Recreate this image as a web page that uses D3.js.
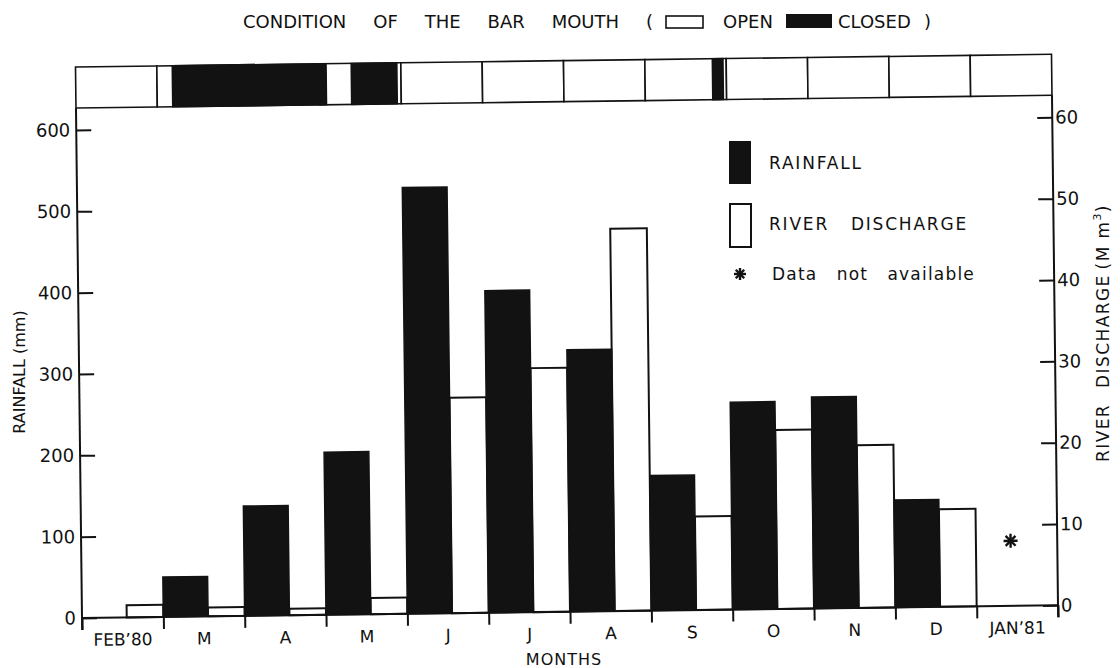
<!DOCTYPE html>
<html>
<head>
<meta charset="utf-8">
<script src="https://cdn.jsdelivr.net/npm/d3@7"></script>
<style>
  body { margin: 0; background: #fff; }
  text { font-family: "DejaVu Sans", sans-serif; fill: #111; }
</style>
</head>
<body>
<div id="chart"></div>
<script>
// Monthly data, Feb 1980 - Jan 1981
const months = ["FEB\u201980", "M", "A", "M", "J", "J", "A", "S", "O", "N", "D", "JAN\u201981"];
const rainfall = [0, 49, 135, 200, 524, 396, 322, 166, 255, 260, 132, 0];      // mm
const discharge = [1.5, 1.1, 0.8, 2.0, 26.5, 30, 47, 11.5, 22, 20, 12, null];  // Mm3

// Bar mouth closed periods, in months counted from 1 Feb 1980
const closedPeriods = [[1.19, 3.08], [3.39, 3.95], [7.83, 7.96]];

// Missing discharge marker (month index, level on discharge scale)
const notAvailable = [{ month: 11, level: 8 }];

const rainTicks = [0, 100, 200, 300, 400, 500, 600];
const flowTicks = [0, 10, 20, 30, 40, 50, 60];

// Layout
const width = 1120, height = 668;
const left = 82, right = 1058, base = 618, frameTop = 108, stripTop = 67;
const ink = "#121212";

const x = d3.scaleLinear().domain([0, months.length]).range([left, right]);
const yRain = d3.scaleLinear().domain([0, 600]).range([base, 130]);
const yFlow = d3.scaleLinear().domain([0, 60]).range([base, 130]);
const bw = x(1) - x(0);
const split = 0.55;

const svg = d3.select("#chart").append("svg")
    .attr("width", width)
    .attr("height", height);

svg.append("rect").attr("width", width).attr("height", height).attr("fill", "#fff");

// stretch the gaps between words so a line fills a given length
function fitWords(sel, target) {
  const gaps = (sel.text().match(/ +/g) || []).length;
  const len = sel.node().getComputedTextLength();
  if (gaps) sel.attr("word-spacing", (target - len) / gaps);
  return sel;
}

// 8-armed asterisk like the one in the figure
function star(parent, cx, cy, r) {
  const s = parent.append("g").attr("transform", `translate(${cx},${cy})`)
      .attr("stroke", ink).attr("stroke-width", 2.4);
  [0, 45, 90, 135].forEach(a => {
    const dx = r * Math.cos(a * Math.PI / 180), dy = r * Math.sin(a * Math.PI / 180);
    s.append("line").attr("x1", -dx).attr("y1", -dy).attr("x2", dx).attr("y2", dy);
  });
}

// the scanned figure is slightly skewed, so the plot gets a small shear
const g = svg.append("g")
    .attr("transform", `matrix(1,-0.013,0.0118,1,${-0.0118 * base},${0.013 * left})`);

// bar mouth strip
const strip = g.append("g");
strip.selectAll("rect.month")
  .data(months)
  .join("rect")
    .attr("class", "month")
    .attr("x", (d, i) => x(i))
    .attr("y", stripTop)
    .attr("width", bw)
    .attr("height", frameTop - stripTop)
    .attr("fill", "#fff")
    .attr("stroke", ink)
    .attr("stroke-width", 1.6);

strip.selectAll("rect.closed")
  .data(closedPeriods)
  .join("rect")
    .attr("class", "closed")
    .attr("x", d => x(d[0]))
    .attr("y", stripTop)
    .attr("width", d => x(d[1]) - x(d[0]))
    .attr("height", frameTop - stripTop)
    .attr("fill", ink)
    .attr("stroke", ink)
    .attr("stroke-width", 1.6);

// discharge bars (open)
const flowData = discharge.map((v, i) => ({ i, v })).filter(d => d.v != null);
g.append("g").selectAll("rect")
  .data(flowData)
  .join("rect")
    .attr("x", d => x(d.i) + bw * split)
    .attr("y", d => yFlow(d.v))
    .attr("width", bw * (1 - split))
    .attr("height", d => base - yFlow(d.v))
    .attr("fill", "#fff")
    .attr("stroke", ink)
    .attr("stroke-width", 2);

// rainfall bars (solid)
const rainData = rainfall.map((v, i) => ({ i, v })).filter(d => d.v > 0);
g.append("g").selectAll("rect")
  .data(rainData)
  .join("rect")
    .attr("x", d => x(d.i))
    .attr("y", d => yRain(d.v))
    .attr("width", bw * split)
    .attr("height", d => base - yRain(d.v))
    .attr("fill", ink)
    .attr("stroke", ink)
    .attr("stroke-width", 1.5);

// asterisk for data not available
notAvailable.forEach(d => star(g, x(d.month + 0.5) - 6, yFlow(d.level), 7));

// frame lines
const frame = g.append("g").attr("stroke", ink).attr("stroke-width", 2);
frame.append("line").attr("x1", left).attr("x2", left).attr("y1", frameTop).attr("y2", base + 12);
frame.append("line").attr("x1", right).attr("x2", right).attr("y1", frameTop).attr("y2", base + 12);
frame.append("line").attr("x1", left).attr("x2", right).attr("y1", base).attr("y2", base);

// axes
const axisL = g.append("g")
    .attr("transform", `translate(${left},0)`)
    .call(d3.axisLeft(yRain).tickValues(rainTicks).tickSize(-15).tickPadding(6));
const axisR = g.append("g")
    .attr("transform", `translate(${right},0)`)
    .call(d3.axisRight(yFlow).tickValues(flowTicks).tickSize(-15).tickPadding(3));
const axisB = g.append("g")
    .attr("transform", `translate(0,${base})`)
    .call(d3.axisBottom(x).tickValues(d3.range(0, months.length + 1)).tickSize(12).tickFormat(""));

[axisL, axisR, axisB].forEach(a => {
  a.select(".domain").remove();
  a.selectAll(".tick line").attr("stroke", ink).attr("stroke-width", 2);
  a.selectAll(".tick text").attr("font-size", 18).attr("fill", ink)
    .style("font-family", "'DejaVu Sans', sans-serif");
});

// month labels
g.append("g").selectAll("text")
  .data(months)
  .join("text")
    .attr("x", (d, i) => x(i + 0.5))
    .attr("y", base + 28)
    .attr("text-anchor", "middle")
    .attr("font-size", 17)
    .text(d => d);

// axis titles
svg.append("text")
    .attr("x", 564).attr("y", 665)
    .attr("text-anchor", "middle")
    .attr("font-size", 16)
    .attr("letter-spacing", 1)
    .text("MONTHS");

svg.append("text")
    .attr("transform", "translate(25,372) rotate(-90)")
    .attr("text-anchor", "middle")
    .attr("font-size", 16)
    .text("RAINFALL (mm)");

const rt = svg.append("text")
    .attr("transform", "translate(1109,333) rotate(-90)")
    .attr("text-anchor", "middle")
    .attr("font-size", 17)
    .attr("letter-spacing", 1.4);
rt.append("tspan").text("RIVER");
rt.append("tspan").attr("dx", 16).text("DISCHARGE");
rt.append("tspan").attr("dx", 5).text("(M m");
rt.append("tspan").attr("dy", -8).attr("font-size", 11).text("3");
rt.append("tspan").attr("dy", 8).text(")");

// title with open/closed key
const title = svg.append("g").attr("transform", "translate(0,28)");
fitWords(title.append("text").attr("x", 243).attr("font-size", 18)
    .text("CONDITION OF THE BAR MOUTH ("), 410);
title.append("rect").attr("x", 666).attr("y", -12).attr("width", 37).attr("height", 12)
    .attr("fill", "#fff").attr("stroke", ink).attr("stroke-width", 1.6);
title.append("text").attr("x", 723).attr("font-size", 18).text("OPEN");
title.append("rect").attr("x", 786).attr("y", -14).attr("width", 46).attr("height", 14)
    .attr("fill", ink);
fitWords(title.append("text").attr("x", 838).attr("font-size", 18)
    .text("CLOSED )"), 93);

// legend
const legend = svg.append("g");
legend.append("rect").attr("x", 729).attr("y", 141).attr("width", 22).attr("height", 43).attr("fill", ink);
legend.append("rect").attr("x", 730).attr("y", 204).attr("width", 21).attr("height", 43)
    .attr("fill", "#fff").attr("stroke", ink).attr("stroke-width", 2);
legend.append("text").attr("x", 769).attr("y", 169).attr("font-size", 17)
    .attr("letter-spacing", 1.8).text("RAINFALL");
fitWords(legend.append("text").attr("x", 769).attr("y", 230).attr("font-size", 17)
    .attr("letter-spacing", 1.8).text("RIVER DISCHARGE"), 199);
star(legend, 740, 274, 6);
fitWords(legend.append("text").attr("x", 772).attr("y", 280).attr("font-size", 17)
    .attr("letter-spacing", 1.2).text("Data not available"), 203);
</script>
</body>
</html>
